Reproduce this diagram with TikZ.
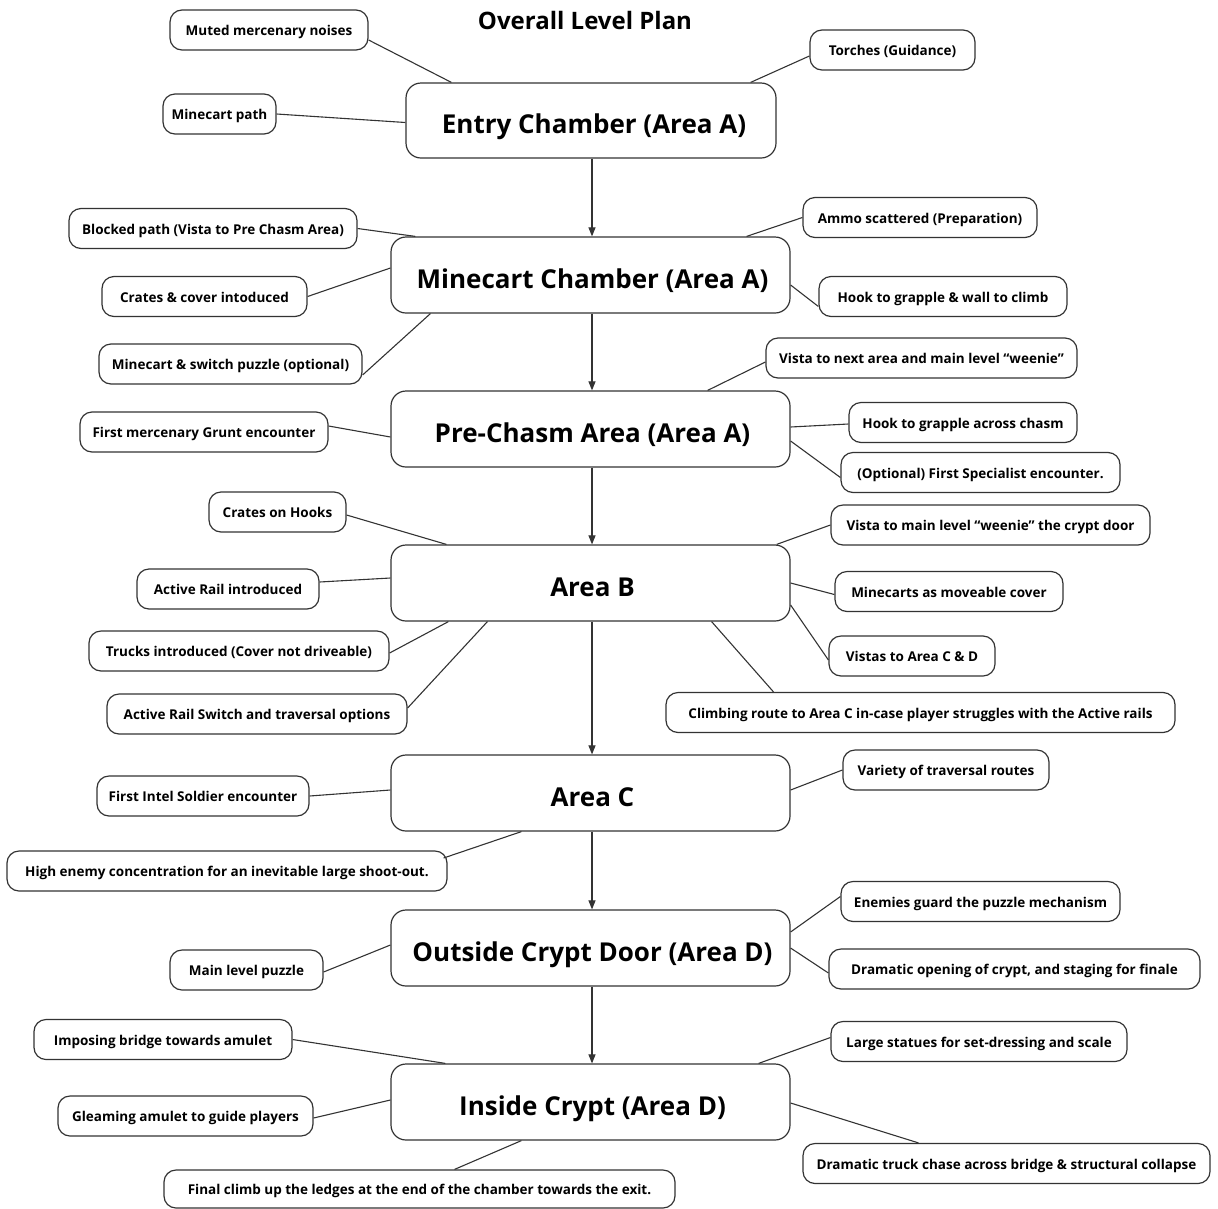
\documentclass[tikz,border=0pt]{standalone}
\usepackage{fontspec}
\setmainfont{Open Sans}
\usetikzlibrary{arrows.meta}
\definecolor{ln}{HTML}{333333}
\begin{document}
\begin{tikzpicture}[x=1pt,y=-1pt,
  side/.style={draw=ln,line width=1.2pt,rounded corners=12pt,minimum height=40pt,inner sep=0pt,align=center,text height=12pt,text depth=1pt,font=\fontsize{13.5}{15}\selectfont\bfseries},
  mainbox/.style={draw=ln,line width=1.2pt,rounded corners=15pt,minimum width=399pt,minimum height=76pt,inner sep=0pt,text height=28pt,text depth=1.4pt,font=\fontsize{26}{30}\selectfont\bfseries},
  link/.style={draw=ln,line width=1.1pt},
  flow/.style={draw=ln,line width=1.1pt,-{Triangle[length=9pt,width=7pt]}}]
\useasboundingbox (0,0) rectangle (1218,1208);
\node[font=\fontsize{24}{28}\selectfont\bfseries] (title) at (585,20) {Overall Level Plan};
% main boxes
\node[mainbox,minimum width=370pt,minimum height=75pt] (e) at (591,120.5) {\hspace{6pt}Entry Chamber (Area A)};
\node[mainbox] (mc) at (590.5,275) {\hspace{4pt}Minecart Chamber (Area A)};
\node[mainbox] (pc) at (590.5,429) {\hspace{4pt}Pre-Chasm Area (Area A)};
\node[mainbox] (b) at (590.5,583) {\hspace{4pt}Area B};
\node[mainbox] (c) at (590.5,793) {\hspace{4pt}Area C};
\node[mainbox] (od) at (590.5,948) {\hspace{4pt}Outside Crypt Door (Area D)};
\node[mainbox] (ic) at (590.5,1102) {\hspace{4pt}Inside Crypt (Area D)};
\draw[flow] (e.south -| 592,0) -- (mc.north -| 592,0);
\draw[flow] (mc.south -| 592,0) -- (pc.north -| 592,0);
\draw[flow] (pc.south -| 592,0) -- (b.north -| 592,0);
\draw[flow] (b.south -| 592,0) -- (c.north -| 592,0);
\draw[flow] (c.south -| 592,0) -- (od.north -| 592,0);
\draw[flow] (od.south -| 592,0) -- (ic.north -| 592,0);
% side nodes
\node[side,minimum width=198pt] (mute) at (269,30) {Muted mercenary noises};
\node[side,minimum width=113pt] (mpath) at (219.5,114) {Minecart path};
\node[side,minimum width=165pt] (torch) at (892.5,50) {Torches (Guidance)};
\node[side,minimum width=288pt] (blocked) at (213,228.5) {Blocked path (Vista to Pre Chasm Area)};
\node[side,minimum width=234pt] (ammo) at (920,217.5) {Ammo scattered (Preparation)};
\node[side,minimum width=205pt] (crates) at (204.5,296.5) {Crates \& cover intoduced};
\node[side,minimum width=248pt] (hookwall) at (943,296.5) {Hook to grapple \& wall to climb};
\node[side,minimum width=263pt] (puzzle) at (230.5,364) {Minecart \& switch puzzle (optional)};
\node[side,minimum width=311pt] (vistanext) at (921.5,358) {Vista to next area and main level “weenie”};
\node[side,minimum width=248pt] (grunt) at (204,432) {First mercenary Grunt encounter};
\node[side,minimum width=228pt] (hookchasm) at (963,422.5) {Hook to grapple across chasm};
\node[side,minimum width=279pt] (special) at (980.5,472.5) {(Optional) First Specialist encounter.};
\node[side,minimum width=137pt] (crateshooks) at (277.5,512) {Crates on Hooks};
\node[side,minimum width=319pt] (vistacrypt) at (990.5,525) {Vista to main level “weenie” the crypt door};
\node[side,minimum width=182pt] (activerail) at (228,589) {Active Rail introduced};
\node[side,minimum width=228pt] (minecover) at (949,591.5) {Minecarts as moveable cover};
\node[side,minimum width=300pt] (trucks) at (239,651) {Trucks introduced (Cover not driveable)};
\node[side,minimum width=166pt] (vistascd) at (912,656) {Vistas to Area C \& D};
\node[side,minimum width=300pt] (railswitch) at (257,714) {Active Rail Switch and traversal options};
\node[side,minimum width=509pt] (climb) at (920.5,712.5) {Climbing route to Area C in-case player struggles with the Active rails};
\node[side,minimum width=212pt] (intel) at (203,796) {First Intel Soldier encounter};
\node[side,minimum width=206pt] (variety) at (946,770) {Variety of traversal routes};
\node[side,minimum width=440pt] (highenemy) at (227,871) {High enemy concentration for an inevitable large shoot-out.};
\node[side,minimum width=279pt] (enemies) at (980.5,901.5) {Enemies guard the puzzle mechanism};
\node[side,minimum width=153pt] (mainpuzzle) at (246.5,970) {Main level puzzle};
\node[side,minimum width=371pt] (dramaopen) at (1014.5,969) {Dramatic opening of crypt, and staging for finale};
\node[side,minimum width=258pt] (bridge) at (163,1039.5) {Imposing bridge towards amulet};
\node[side,minimum width=296pt] (statues) at (979,1041.5) {Large statues for set-dressing and scale};
\node[side,minimum width=255pt] (gleam) at (185.5,1116) {Gleaming amulet to guide players};
\node[side,minimum width=407pt] (truckchase) at (1006.5,1163.5) {Dramatic truck chase across bridge \& structural collapse};
\node[side,minimum width=511pt,minimum height=38pt] (finalclimb) at (419.5,1189) {Final climb up the ledges at the end of the chamber towards the exit.};
% connectors
\draw[link] ([yshift=-10pt]mute.east) -- ([xshift=46pt]e.north west);
\draw[link] (mpath.east) -- ([yshift=-2pt]e.west);
\draw[link] ([yshift=-6pt]torch.west) -- ([xshift=-26pt]e.north east);
\draw[link] (blocked.east) -- ([xshift=25pt]mc.north west);
\draw[link] (ammo.west) -- ([xshift=-44pt]mc.north east);
\draw[link] (crates.east) -- ([yshift=7pt]mc.west);
\draw[link] ([yshift=-10pt]hookwall.west) -- ([yshift=-10pt]mc.east);
\draw[link] ([yshift=-11pt]puzzle.east) -- ([xshift=40pt]mc.south west);
\draw[link] ([yshift=-4pt]vistanext.west) -- ([xshift=-83pt]pc.north east);
\draw[link] ([yshift=6pt]grunt.east) -- ([yshift=-8pt]pc.west);
\draw[link] ([yshift=-1.5pt]hookchasm.west) -- ([yshift=2pt]pc.east);
\draw[link] ([yshift=-5pt]special.west) -- ([yshift=-12pt]pc.east);
\draw[link] ([yshift=-3pt]crateshooks.east) -- ([xshift=56pt]b.north west);
\draw[link] (vistacrypt.west) -- ([xshift=-14pt]b.north east);
\draw[link] ([yshift=7pt]activerail.east) -- ([yshift=5pt]b.west);
\draw[link] ([yshift=-3pt]minecover.west) -- (b.east);
\draw[link] ([yshift=-2pt]trucks.east) -- ([xshift=58pt]b.south west);
\draw[link] ([yshift=-4pt]vistascd.west) -- ([yshift=-22pt]b.east);
\draw[link] ([yshift=6pt]railswitch.east) -- ([xshift=97pt]b.south west);
\draw[link] ([xshift=-147pt]climb.north) -- ([xshift=-79pt]b.south east);
\draw[link] (intel.east) -- ([yshift=3pt]c.west);
\draw[link] (variety.west) -- ([yshift=3pt]c.east);
\draw[link] ([xshift=-4pt,yshift=13pt]highenemy.east) -- ([xshift=131pt]c.south west);
\draw[link] ([yshift=5pt]enemies.west) -- ([yshift=16pt]od.east);
\draw[link] ([yshift=-2pt]mainpuzzle.east) -- ([yshift=3pt]od.west);
\draw[link] ([yshift=-4pt]dramaopen.west) -- (od.east);
\draw[link] (bridge.east) -- ([xshift=55pt]ic.north west);
\draw[link] ([yshift=4pt]statues.west) -- ([xshift=-32pt]ic.north east);
\draw[link] ([yshift=-2pt]gleam.east) -- ([yshift=2pt]ic.west);
\draw[link] ([xshift=-88pt]truckchase.north) -- ([yshift=-1pt]ic.east);
\draw[link] ([xshift=35pt]finalclimb.north) -- ([xshift=131pt]ic.south west);
\end{tikzpicture}
\end{document}
